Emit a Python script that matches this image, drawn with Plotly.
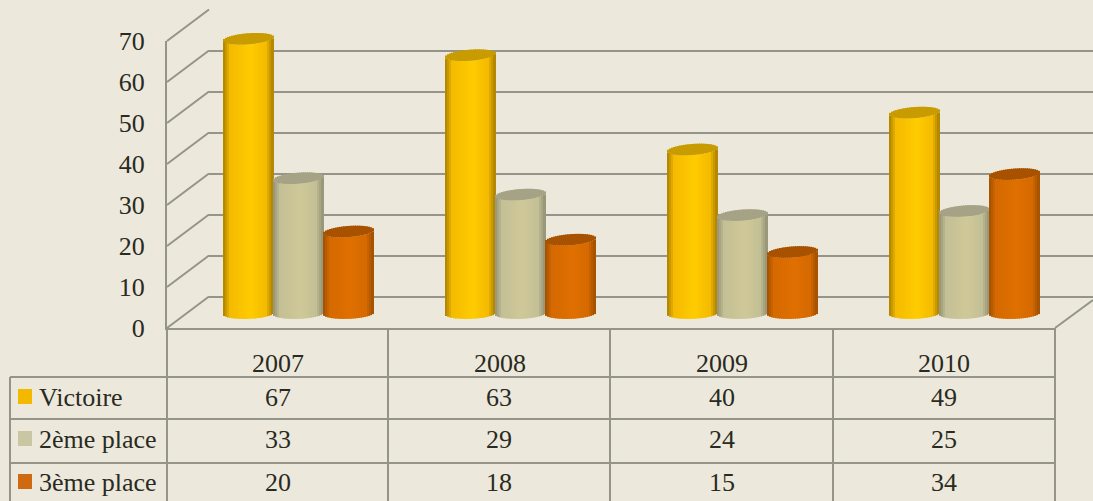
import numpy as np
import plotly.graph_objects as go

# ---- data ----
years = ["2007", "2008", "2009", "2010"]
series_names = ["Victoire", "2ème place", "3ème place"]
victoire = [67, 63, 40, 49]
deuxieme = [33, 29, 24, 25]
troisieme = [20, 18, 15, 34]
y_ticks = [0, 10, 20, 30, 40, 50, 60, 70]

# ---- styles ----
W, H = 1093, 501
BG = "#ece9dc"
GRID = "#94948a"
TXT = "#2a2a22"
FONT = "Liberation Serif"
FS = 26
EDGE = [(170, 128, 0), (148, 146, 118), (160, 80, 0)]
MID = [(245, 187, 0), (196, 192, 150), (214, 106, 0)]
LIGHT = [(255, 204, 0), (208, 200, 152), (224, 112, 0)]
CAP = ["#c89c00", "#a5a286", "#a85200"]
KEY = ["#f2b900", "#c9c6a3", "#cf6a10"]


def px(x):
    return x / W


def py(y):
    return 1 - y / H


def shade(t, i):
    stops = [0, 0.14, 0.55, 0.86, 1]
    cols = [EDGE[i], MID[i], LIGHT[i], MID[i], EDGE[i]]
    c = [np.interp(t, stops, [k[j] for k in cols]) for j in range(3)]
    return "rgb(%d,%d,%d)" % tuple(c)


fig = go.Figure()

# back wall (gridlines), on the first subplot
fig.add_trace(go.Scatter(x=[0, 1], y=[0, 0], mode="lines", line=dict(width=0),
                         xaxis="x", yaxis="y", hoverinfo="skip", showlegend=False))
# front plane (y labels and year labels)
fig.add_trace(go.Scatter(x=years, y=[0] * 4, mode="lines", line=dict(width=0),
                         xaxis="x2", yaxis="y2", hoverinfo="skip", showlegend=False))

# cylinders: vertical strips of bars on the mid-depth plane
N = 25
BAR_W = 50 / 222
CENTERS = [-51 / 222, -1 / 222, 49 / 222]
CAP_H = 1.35
FOOT_H = 1.3
TILT = 0.45
for i, vals in enumerate([victoire, deuxieme, troisieme]):
    v = np.array(vals, dtype=float)
    for k in range(N):
        t = (k + 0.5) / N
        round_ = np.sqrt(max(1 - (2 * t - 1) ** 2, 0))
        lean = TILT * (2 * t - 1)
        offs = CENTERS[i] - BAR_W / 2 + k * BAR_W / N
        foot = -FOOT_H * round_ + lean * 0.5
        low = v - CAP_H * round_ + lean
        high = v + CAP_H * round_ + lean
        fig.add_trace(go.Bar(x=years, y=low - foot, base=[foot] * 4,
                             width=BAR_W / N * 1.5, offset=offs,
                             marker=dict(color=shade(t, i), line=dict(width=0)),
                             xaxis="x3", yaxis="y3", hoverinfo="skip", showlegend=False))
        fig.add_trace(go.Bar(x=years, y=high - low, base=low,
                             width=BAR_W / N * 1.5, offset=offs,
                             marker=dict(color=CAP[i], line=dict(width=0)),
                             xaxis="x3", yaxis="y3", hoverinfo="skip", showlegend=False))

# ---- plane geometry ----
FRONT_X, BACK_X = 167, 209
FRONT_0, BACK_0, MID_0 = 328, 296.5, 313.5
SCALE = 4.1
END_X = 1055
MID_L, MID_R = 188, 1076
PAD = 4  # value units kept below zero so the round feet are not clipped

shapes = []


def line(x0, y0, x1, y1, width=2, color=GRID):
    shapes.append(dict(type="line", xref="paper", yref="paper",
                       x0=px(x0), y0=py(y0), x1=px(x1), y1=py(y1),
                       line=dict(color=color, width=width), layer="below"))


# side wall lines, one per tick
for t in y_ticks:
    line(FRONT_X, FRONT_0 - SCALE * t, BACK_X, BACK_0 - SCALE * t)
# floor right edge
line(END_X, FRONT_0, W, 300)

# table
ROWS = [377, 419, 463]
COLS = [FRONT_X, 388, 610, 833, END_X]
for y in ROWS:
    line(10, y, END_X, y)
line(10, ROWS[0], 10, H)
for x in COLS:
    line(x, FRONT_0, x, H)

annotations = []
table_rows = [victoire, deuxieme, troisieme]
ROW_Y = [397, 439, 482]
for r, vals in enumerate(table_rows):
    annotations.append(dict(text=series_names[r], xref="paper", yref="paper",
                            x=px(37), y=py(ROW_Y[r]), xanchor="left", yanchor="middle",
                            showarrow=False, font=dict(family=FONT, size=FS, color=TXT)))
    shapes.append(dict(type="rect", xref="paper", yref="paper",
                       x0=px(18), x1=px(32), y0=py(ROW_Y[r] - 8), y1=py(ROW_Y[r] + 7),
                       fillcolor=KEY[r], line=dict(width=0)))
    for c, val in enumerate(vals):
        annotations.append(dict(text=str(val), xref="paper", yref="paper",
                                x=px((COLS[c] + COLS[c + 1]) / 2), y=py(ROW_Y[r]),
                                xanchor="center", yanchor="middle", showarrow=False,
                                font=dict(family=FONT, size=FS, color=TXT)))

ymax = y_ticks[-1]
hidden = dict(visible=False, fixedrange=True, automargin=False)
fig.update_layout(
    template="none",
    width=W, height=H, autosize=False,
    margin=dict(l=0, r=0, t=0, b=0, pad=0, autoexpand=False),
    paper_bgcolor=BG, plot_bgcolor="rgba(0,0,0,0)",
    barmode="overlay", showlegend=False, shapes=shapes, annotations=annotations,
    font=dict(family=FONT, size=FS, color=TXT),
    # back wall
    xaxis=dict(domain=[px(BACK_X), 1], range=[0, 1], **hidden),
    yaxis=dict(domain=[py(BACK_0), py(BACK_0 - SCALE * ymax)], range=[0, ymax],
               tickvals=y_ticks, showgrid=True, gridcolor=GRID, gridwidth=2,
               showticklabels=False, ticks="", zeroline=True, zerolinecolor=GRID,
               zerolinewidth=2, showline=False, fixedrange=True, automargin=False),
    # front plane
    xaxis2=dict(domain=[px(FRONT_X), px(END_X)], type="category", range=[-0.5, 3.5],
                anchor="y2", showline=True, linecolor=GRID, linewidth=2, showgrid=False,
                ticks="outside", ticklen=11, tickcolor="rgba(0,0,0,0)", tickwidth=1,
                automargin=False,
                tickfont=dict(family=FONT, size=FS, color=TXT), fixedrange=True),
    yaxis2=dict(domain=[py(FRONT_0), py(FRONT_0 - SCALE * ymax)], range=[0, ymax],
                anchor="x2", tickvals=y_ticks, showline=True, linecolor=GRID, linewidth=2,
                showgrid=False, zeroline=False, ticks="outside", ticklen=15,
                tickcolor="rgba(0,0,0,0)", tickwidth=1, automargin=False,
                tickfont=dict(family=FONT, size=FS, color=TXT), fixedrange=True),
    # bars, mid-depth plane
    xaxis3=dict(domain=[px(MID_L), px(MID_R)], type="category", range=[-0.5, 3.5],
                anchor="y3", categoryorder="array", categoryarray=years, **hidden),
    yaxis3=dict(domain=[py(MID_0 + SCALE * PAD), py(MID_0 - SCALE * (ymax + PAD))],
                range=[-PAD, ymax + PAD], anchor="x3", **hidden),
)

fig.write_html(
    "out.html",
    config=dict(displayModeBar=False),
    post_script="document.body.style.margin='0';document.body.style.overflow='hidden';"
                "document.body.style.background='" + BG + "';",
)
